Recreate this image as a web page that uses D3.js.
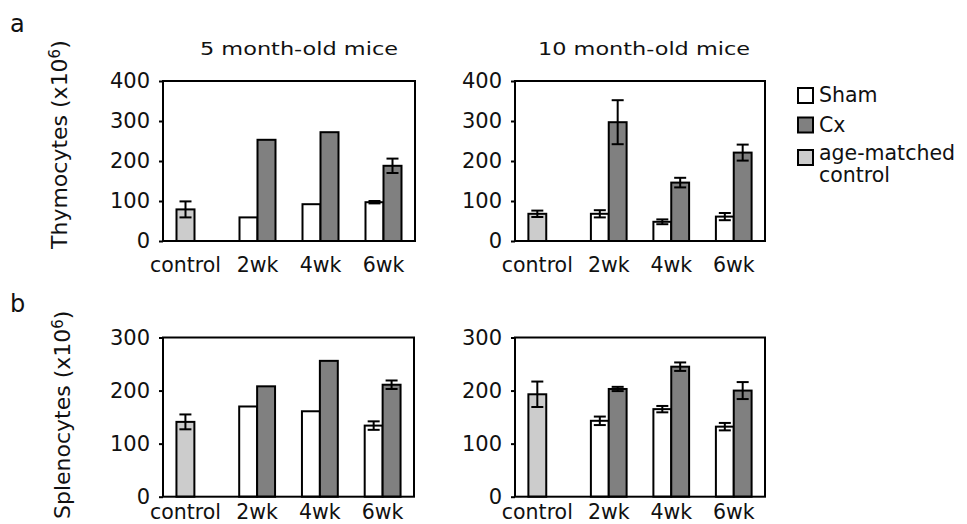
<!DOCTYPE html>
<html>
<head>
<meta charset="utf-8">
<script src="https://d3js.org/d3.v7.min.js"></script>
<style>
    body { margin: 0; background: #fff; }
    svg { display: block; font-family: "DejaVu Sans", Verdana, sans-serif; }
    text { fill: #111; }
</style>
</head>
<body>
<script>
"use strict";
/* values */
var categories = ["control", "2wk", "4wk", "6wk"];
var slots = ["Sham", "Cx"];
var seriesNames = ["Sham", "Cx", "age-matched control"];
var seriesColors = ["#ffffff", "#808080", "#cccccc"];

var thyTicks = [0, 100, 200, 300, 400];
var splTicks = [0, 100, 200, 300];

/* thymocytes, 5 month-old mice */
var thy5Control = 79, thy5ControlErr = 20;
var thy5Sham = [null, 59, 92, 97];
var thy5ShamErr = [null, 0, 0, 3];
var thy5Cx = [null, 253, 272, 188];
var thy5CxErr = [null, 0, 0, 18];

/* thymocytes, 10 month-old mice */
var thy10Control = 68, thy10ControlErr = 8;
var thy10Sham = [null, 68, 48, 61];
var thy10ShamErr = [null, 9, 6, 9];
var thy10Cx = [null, 297, 146, 221];
var thy10CxErr = [null, 55, 12, 20];

/* splenocytes, 5 month-old mice */
var spl5Control = 141, spl5ControlErr = 14;
var spl5Sham = [null, 170, 161, 134];
var spl5ShamErr = [null, 0, 0, 8];
var spl5Cx = [null, 208, 256, 211];
var spl5CxErr = [null, 0, 0, 8];

/* splenocytes, 10 month-old mice */
var spl10Control = 193, spl10ControlErr = 24;
var spl10Sham = [null, 143, 165, 132];
var spl10ShamErr = [null, 8, 6, 7];
var spl10Cx = [null, 203, 245, 200];
var spl10CxErr = [null, 4, 8, 16];

var width = 967;
var height = 524;

var svg = d3.select("body").append("svg")
    .attr("width", width).attr("height", height);

/* turn the arrays into one row per bar */
function makeRows(ctrl, ctrlErr, sham, shamErr, cx, cxErr) {
    var rows = [{cat: categories[0], slot: "Sham", s: 2, v: ctrl, e: ctrlErr}];
    categories.forEach(function(c, i) {
        if (sham[i] != null) rows.push({cat: c, slot: "Sham", s: 0, v: sham[i], e: shamErr[i]});
        if (cx[i] != null) rows.push({cat: c, slot: "Cx", s: 1, v: cx[i], e: cxErr[i]});
    });
    return rows;
}

function drawPanel(p) {
    var g = svg.append("g");
    var x0 = d3.scaleBand().domain(categories).range([p.left, p.right]);
    var x1 = d3.scaleBand().domain(slots).range([0, x0.bandwidth()]).paddingOuter(0.75);
    var y = d3.scaleLinear().domain([0, p.ticks[p.ticks.length - 1]]).range([p.bottom, p.top]);

    /* bars */
    g.selectAll("rect.bar").data(p.rows).enter().append("rect")
        .attr("class", "bar")
        .attr("x", function(d) { return x0(d.cat) + x1(d.slot); })
        .attr("y", function(d) { return y(d.v); })
        .attr("width", x1.bandwidth())
        .attr("height", function(d) { return y(0) - y(d.v); })
        .attr("fill", function(d) { return seriesColors[d.s]; })
        .attr("stroke", "#000").attr("stroke-width", 2);

    /* error bars */
    var cap = 6;
    var eb = g.selectAll("g.err").data(p.rows.filter(function(d) { return d.e > 0; }))
        .enter().append("g").attr("class", "err")
        .attr("transform", function(d) {
            return "translate(" + (x0(d.cat) + x1(d.slot) + x1.bandwidth() / 2) + ",0)";
        })
        .attr("stroke", "#000").attr("stroke-width", 2);
    eb.append("line").attr("x1", 0).attr("x2", 0)
        .attr("y1", function(d) { return y(d.v + d.e); })
        .attr("y2", function(d) { return y(d.v - d.e); });
    eb.append("line").attr("x1", -cap).attr("x2", cap)
        .attr("y1", function(d) { return y(d.v + d.e); })
        .attr("y2", function(d) { return y(d.v + d.e); });
    eb.append("line").attr("x1", -cap).attr("x2", cap)
        .attr("y1", function(d) { return y(d.v - d.e); })
        .attr("y2", function(d) { return y(d.v - d.e); });

    /* frame */
    g.append("rect")
        .attr("x", p.left).attr("y", p.top)
        .attr("width", p.right - p.left).attr("height", p.bottom - p.top)
        .attr("fill", "none").attr("stroke", "#000").attr("stroke-width", 2);

    /* y axis */
    var ax = g.append("g").attr("transform", "translate(" + p.left + ",0)")
        .call(d3.axisLeft(y).tickValues(p.ticks).tickSize(4).tickPadding(9));
    ax.select(".domain").remove();
    ax.selectAll(".tick line").attr("stroke", "#000").attr("stroke-width", 2);
    ax.selectAll(".tick text").style("font-size", "21px").attr("fill", "#111")
        .style("font-family", "'DejaVu Sans', Verdana, sans-serif");

    /* category labels, centred under the bars of each group */
    g.selectAll("text.cat").data(categories).enter().append("text")
        .attr("class", "cat")
        .attr("x", function(c, i) {
            return i === 0 ? x0(c) + x1("Sham") + x1.bandwidth() / 2 : x0(c) + x0.bandwidth() / 2;
        })
        .attr("y", p.labelY)
        .attr("text-anchor", "middle")
        .style("font-size", "20.5px")
        .text(function(c) { return c; });

    if (p.title) {
        g.append("text")
            .attr("x", p.titleX).attr("y", 55)
            .attr("text-anchor", "middle")
            .attr("textLength", p.titleLen).attr("lengthAdjust", "spacingAndGlyphs")
            .style("font-size", "17.5px")
            .text(p.title);
    }
}

drawPanel({left: 163, right: 415, top: 81, bottom: 241, ticks: thyTicks, labelY: 271.5,
    title: "5 month-old mice", titleX: 299, titleLen: 198,
    rows: makeRows(thy5Control, thy5ControlErr, thy5Sham, thy5ShamErr, thy5Cx, thy5CxErr)});
drawPanel({left: 515, right: 765, top: 81, bottom: 241, ticks: thyTicks, labelY: 271.5,
    title: "10 month-old mice", titleX: 644, titleLen: 212,
    rows: makeRows(thy10Control, thy10ControlErr, thy10Sham, thy10ShamErr, thy10Cx, thy10CxErr)});
drawPanel({left: 163, right: 414, top: 337.5, bottom: 496.7, ticks: splTicks, labelY: 519,
    rows: makeRows(spl5Control, spl5ControlErr, spl5Sham, spl5ShamErr, spl5Cx, spl5CxErr)});
drawPanel({left: 515, right: 765, top: 337.5, bottom: 496.7, ticks: splTicks, labelY: 519,
    rows: makeRows(spl10Control, spl10ControlErr, spl10Sham, spl10ShamErr, spl10Cx, spl10CxErr)});

/* y axis titles with superscript */
function yTitle(name, bx, by) {
    var t = svg.append("text")
        .attr("transform", "translate(" + bx + "," + by + ") rotate(-90)")
        .style("font-size", "22px");
    t.append("tspan").text(name + " (x10");
    t.append("tspan").attr("dy", "-0.45em").style("font-size", "15px").text("6");
    t.append("tspan").attr("dy", "0.3em").text(")");
}
yTitle("Thymocytes", 67, 249);
yTitle("Splenocytes", 70, 519);

/* panel letters */
svg.append("text").attr("x", 10).attr("y", 32).style("font-size", "24px").text("a");
svg.append("text").attr("x", 10).attr("y", 312).style("font-size", "24px").text("b");

/* legend */
var legendY = [88, 117.5, 150];
var legendTextY = [101.5, 132, 160];
var legend = svg.append("g");
seriesNames.forEach(function(name, i) {
    legend.append("rect")
        .attr("x", 798).attr("y", legendY[i])
        .attr("width", 15).attr("height", 15)
        .attr("fill", seriesColors[i]).attr("stroke", "#000").attr("stroke-width", 2);
    if (i === 2) {
        legend.append("text").attr("x", 819).attr("y", legendTextY[i])
            .style("font-size", "20.5px").text("age-matched");
        legend.append("text").attr("x", 819).attr("y", legendTextY[i] + 22)
            .style("font-size", "20.5px").text("control");
    } else {
        legend.append("text").attr("x", 819).attr("y", legendTextY[i])
            .style("font-size", "20.5px").text(name);
    }
});
</script>
</body>
</html>
